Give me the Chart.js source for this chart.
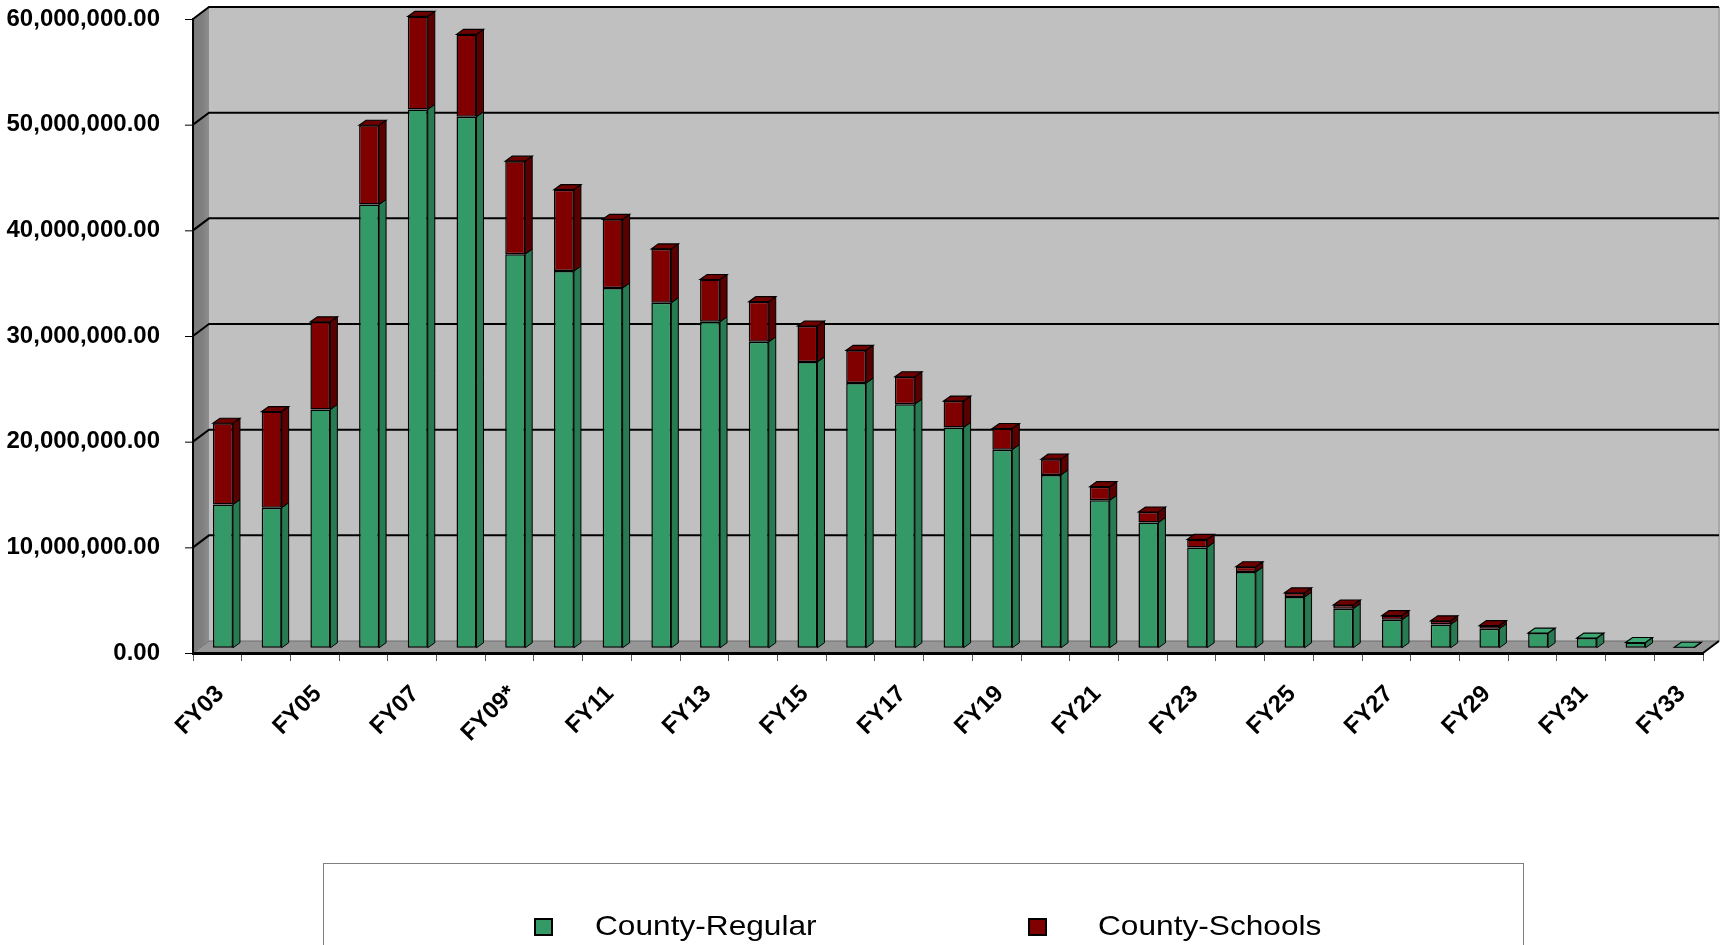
<!DOCTYPE html>
<html>
<head>
<meta charset="utf-8">
<script src="https://cdn.jsdelivr.net/npm/chart.js@4.4.1/dist/chart.umd.min.js"></script>
<style>
html,body{margin:0;padding:0;background:#fff;width:1729px;height:945px;overflow:hidden;}
canvas{display:block;position:absolute;left:0;top:0;}
</style>
</head>
<body>
<canvas id="c" width="1729" height="945"></canvas>
<script>
// ---- data ----
const categories = ['FY03','FY04','FY05','FY06','FY07','FY08','FY09*','FY10','FY11','FY12',
  'FY13','FY14','FY15','FY16','FY17','FY18','FY19','FY20','FY21','FY22',
  'FY23','FY24','FY25','FY26','FY27','FY28','FY29','FY30','FY31','FY32','FY33'];
const countyRegular = [13600000,13300000,22600000,42000000,51000000,50300000,37300000,35700000,34100000,32700000,
  30900000,29000000,27100000,25100000,23100000,20900000,18800000,16400000,14000000,11900000,
  9550000,7220000,4850000,3750000,2700000,2250000,1850000,1440000,970000,550000,100000];
const countySchools = [7700000,9100000,8300000,7500000,8800000,7800000,8800000,7700000,6500000,5100000,
  4000000,3800000,3400000,3100000,2600000,2500000,2000000,1500000,1300000,1000000,
  750000,500000,400000,350000,400000,350000,300000,0,0,0,0];
const seriesNames = ['County-Regular','County-Schools'];
const yMin = 0, yMax = 60000000, yStep = 10000000;

// ---- styles ----
const FONT = '"Liberation Sans", Arial, Helvetica, sans-serif';
const frontColors = ['#339966', '#800000'];
const sideColors  = ['#287A52', '#5A0000'];
const topColors   = ['#3DA873', '#6E0000'];
const WALL = {dx: 16, dy: -12};      // depth of the 3D box
const BAR  = {dx: 5.6, dy: -4.7};    // depth position of the bars
const BD   = {dx: 7, dy: -5};        // bar thickness (depth)

function poly(ctx, pts, fill, stroke, lw) {
  ctx.beginPath();
  ctx.moveTo(pts[0][0], pts[0][1]);
  for (let i = 1; i < pts.length; i++) ctx.lineTo(pts[i][0], pts[i][1]);
  ctx.closePath();
  if (fill) { ctx.fillStyle = fill; ctx.fill(); }
  if (stroke) { ctx.strokeStyle = stroke; ctx.lineWidth = lw || 1; ctx.stroke(); }
}

const wallsPlugin = {
  id: 'walls',
  beforeDraw(chart) {
    const {ctx, chartArea: a, scales: {y}} = chart;
    const dx = WALL.dx, dy = WALL.dy;
    ctx.save();
    // back wall
    ctx.fillStyle = '#C0C0C0';
    ctx.fillRect(a.left + dx, a.top + dy, a.right - a.left, a.bottom - a.top);
    // left wall
    const g = ctx.createLinearGradient(a.left, 0, a.left + dx, 0);
    g.addColorStop(0, '#7A7A7A'); g.addColorStop(0.6, '#808080'); g.addColorStop(1, '#8E8E8E');
    poly(ctx, [[a.left, a.top],[a.left+dx, a.top+dy],[a.left+dx, a.bottom+dy],[a.left, a.bottom]], g);
    // floor
    poly(ctx, [[a.left, a.bottom],[a.left+dx, a.bottom+dy],[a.right+dx, a.bottom+dy],[a.right, a.bottom]], '#969696');
    // right edge of back wall
    ctx.strokeStyle = '#A8A8A8'; ctx.lineWidth = 2;
    ctx.beginPath(); ctx.moveTo(a.right+dx, a.top+dy); ctx.lineTo(a.right+dx, a.bottom+dy); ctx.stroke();
    // gridlines on back wall + left wall, and short tick marks on the axis
    y.ticks.forEach(t => {
      const py = y.getPixelForValue(t.value);
      ctx.beginPath();
      if (t.value === 0) {
        ctx.strokeStyle = '#6E6E6E'; ctx.lineWidth = 1;
      } else {
        ctx.strokeStyle = '#000'; ctx.lineWidth = 2;
      }
      ctx.moveTo(a.left, py); ctx.lineTo(a.left+dx, py+dy); ctx.lineTo(a.right+dx, py+dy);
      ctx.stroke();
      ctx.beginPath();
      ctx.strokeStyle = '#000'; ctx.lineWidth = 1;
      ctx.moveTo(a.left - 8, py + 0.5); ctx.lineTo(a.left, py + 0.5);
      ctx.stroke();
    });
    // floor right edge
    ctx.strokeStyle = '#000'; ctx.lineWidth = 2;
    ctx.beginPath(); ctx.moveTo(a.right, a.bottom); ctx.lineTo(a.right+dx, a.bottom+dy); ctx.stroke();
    ctx.restore();
  }
};

const bars3dPlugin = {
  id: 'bars3d',
  beforeDatasetsDraw(chart) {
    chart.ctx.save();
    chart.ctx.translate(BAR.dx, BAR.dy);
  },
  afterDatasetsDraw(chart) {
    const ctx = chart.ctx;
    const metas = chart.data.datasets.map((d, i) => chart.getDatasetMeta(i));
    const n = chart.data.labels.length;
    for (let i = 0; i < n; i++) {
      let top = null;
      metas.forEach((m, di) => {
        const v = chart.data.datasets[di].data[i];
        if (!v) return;
        const p = m.data[i].getProps(['x','y','base','width'], true);
        const xr = p.x + p.width / 2;
        poly(ctx, [[xr, p.y],[xr+BD.dx, p.y+BD.dy],[xr+BD.dx, p.base+BD.dy],[xr, p.base]], sideColors[di], '#000', 1);
        if (!top || p.y < top.p.y) top = {p, di};
      });
      if (top) {
        const p = top.p, xl = p.x - p.width/2, xr = p.x + p.width/2;
        poly(ctx, [[xl, p.y],[xl+BD.dx, p.y+BD.dy],[xr+BD.dx, p.y+BD.dy],[xr, p.y]], topColors[top.di], '#000', 1.2);
      }
    }
    ctx.restore();
  }
};

const legendPlugin = {
  id: 'boxLegend',
  afterDraw(chart) {
    const ctx = chart.ctx;
    ctx.save();
    ctx.strokeStyle = '#808080'; ctx.lineWidth = 1;
    ctx.strokeRect(323.5, 863.5, 1200, 140);
    const pos = [{sx: 534, tx: 595}, {sx: 1028, tx: 1098}];
    chart.data.datasets.forEach((d, i) => {
      ctx.fillStyle = '#000';
      ctx.fillRect(pos[i].sx, 918, 19, 18);
      ctx.fillStyle = d.backgroundColor;
      ctx.fillRect(pos[i].sx + 2, 920, 15, 14);
      ctx.fillStyle = '#000';
      ctx.font = '28px ' + FONT;
      ctx.textBaseline = 'alphabetic';
      ctx.textAlign = 'left';
      ctx.save();
      ctx.translate(pos[i].tx, 935);
      ctx.scale(1.13, 1);
      ctx.fillText(d.label, 0, 0);
      ctx.restore();
    });
    ctx.restore();
  }
};

const fmt = v => Number(v).toLocaleString('en-US', {minimumFractionDigits: 2, maximumFractionDigits: 2});

new Chart(document.getElementById('c'), {
  type: 'bar',
  data: {
    labels: categories,
    datasets: [
      {label: seriesNames[0], data: countyRegular, backgroundColor: frontColors[0], borderColor: '#000', borderWidth: 1.5, borderSkipped: false, clip: false},
      {label: seriesNames[1], data: countySchools, backgroundColor: frontColors[1], borderColor: '#000', borderWidth: 1.5, borderSkipped: false, clip: false}
    ]
  },
  options: {
    responsive: false,
    animation: false,
    devicePixelRatio: 1,
    categoryPercentage: 1.0,
    barPercentage: 0.41,
    layout: {padding: {top: 19, right: 26, left: 0, bottom: 0}},
    plugins: {legend: {display: false}, tooltip: {enabled: false}},
    scales: {
      x: {
        stacked: true,
        offset: true,
        grid: {display: true, drawOnChartArea: false, drawTicks: true, tickLength: 8, color: '#555', lineWidth: 1, offset: true},
        border: {display: true, color: '#000', width: 3},
        ticks: {
          autoSkip: false, maxRotation: 45, minRotation: 45, labelOffset: 3, padding: 19,
          color: '#000', font: {family: FONT, size: 24, weight: 'bold'},
          callback: function(v, i) { return i % 2 === 0 ? this.getLabelForValue(v) : ''; }
        },
        afterFit: s => { s.height = 945 - 653; }
      },
      y: {
        stacked: true,
        min: yMin, max: yMax,
        grid: {display: true, drawOnChartArea: false, drawTicks: true, tickLength: 30, tickColor: 'rgba(0,0,0,0)', color: '#000', lineWidth: 1},
        border: {display: true, color: '#000', width: 2},
        ticks: {stepSize: yStep, padding: 3, color: '#000', font: {family: FONT, size: 24, weight: 'bold'}, callback: fmt},
        afterFit: s => { s.width = 193; }
      }
    }
  },
  plugins: [wallsPlugin, bars3dPlugin, legendPlugin]
});
</script>
</body>
</html>
